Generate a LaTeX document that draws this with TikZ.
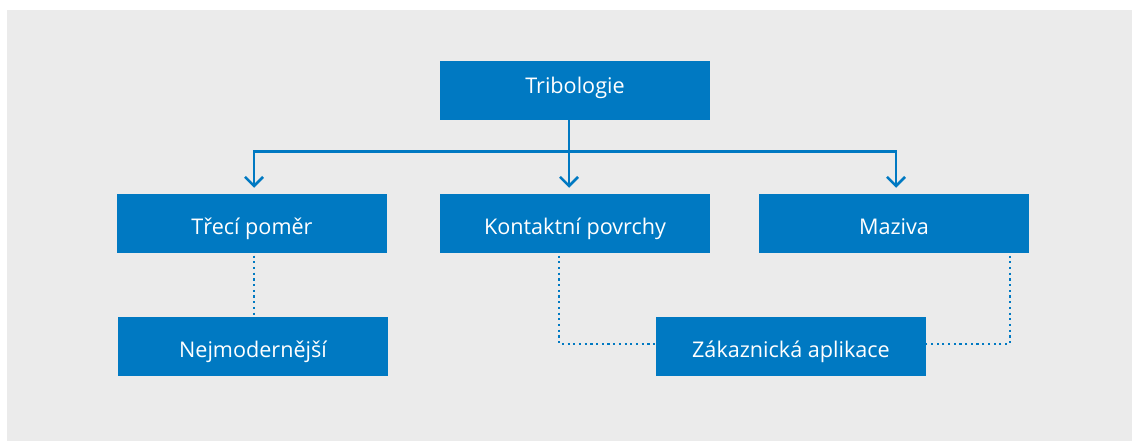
\documentclass[tikz,border=0pt]{standalone}
\usepackage{fontspec}
\setmainfont{Open Sans}
\usetikzlibrary{arrows.meta}
\definecolor{boxblue}{RGB}{0,121,194}
\definecolor{bggray}{RGB}{235,235,235}
\tikzset{
  box/.style={fill=boxblue, draw=none, text=white, minimum width=270pt, minimum height=58.7pt,
    inner sep=0pt, text height=22pt, text depth=0pt, font=\fontsize{21.6}{25}\selectfont},
  conn/.style={draw=boxblue, line width=2.6pt},
  arrowconn/.style={conn, -{Straight Barb[length=9pt,width=18pt]}, shorten >=6pt},
  dotconn/.style={draw=boxblue, line width=2.2pt, dash pattern=on 2.2pt off 3.5pt},
}
\begin{document}
\begin{tikzpicture}[x=1pt,y=-1pt]
\useasboundingbox (0,0) rectangle (1132,441);
\fill[bggray] (7,10) rectangle (1132,441);
\node[box, text height=6pt] (tri) at (575,90.3) {Tribologie};
\node[box] (tp) at (252,223.3) {Třecí poměr};
\node[box] (kp) at (575,223.3) {Kontaktní povrchy};
\node[box] (maz) at (894,223.3) {Maziva};
\node[box] (nej) at (253,346.3) {Nejmodernější};
\node[box] (zak) at (791,346.3) {Zákaznická aplikace};
\coordinate (bus) at (569,151.5);
\draw[arrowconn] ([xshift=-6pt]tri.south) -- ([xshift=-6pt]kp.north);
\draw[arrowconn] (bus) -| ([xshift=2pt]tp.north);
\draw[arrowconn] (bus) -| ([xshift=2pt]maz.north);
\draw[dotconn] ([xshift=2pt,yshift=3pt]tp.south) -- ([xshift=1pt]nej.north);
\draw[dotconn] ([xshift=-16pt,yshift=3pt]kp.south) |- ([yshift=2.4pt]zak.west);
\draw[dotconn] ([xshift=116pt,yshift=3pt]maz.south) |- ([yshift=2.4pt]zak.east);
\end{tikzpicture}
\end{document}
